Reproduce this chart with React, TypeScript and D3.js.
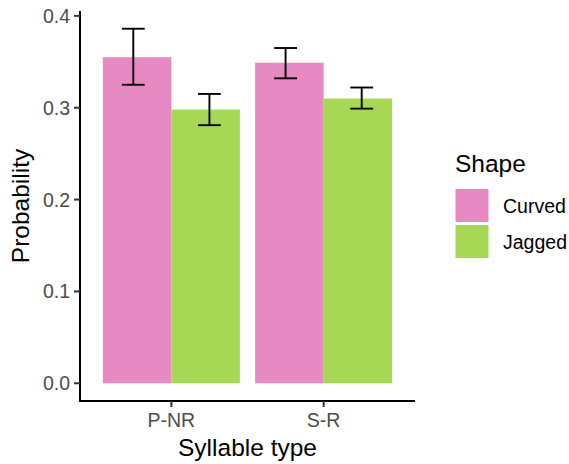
import React from 'react';
import { scaleBand, scaleLinear, max } from 'd3';

const syllableTypes = ['P-NR', 'S-R'];
const shapes = ['Curved', 'Jagged'];
const shapeColors = ['#E78AC3', '#A6D854'];

const curvedMean = [0.355, 0.349];
const curvedLower = [0.325, 0.332];
const curvedUpper = [0.386, 0.365];

const jaggedMean = [0.298, 0.310];
const jaggedLower = [0.281, 0.299];
const jaggedUpper = [0.315, 0.322];

const yTicks = [0, 0.1, 0.2, 0.3, 0.4];

const width = 569;
const height = 464;
const margin = { top: 11, right: 154, bottom: 63, left: 80 };

const App = () => {
  const series = [
    { shape: shapes[0], mean: curvedMean, lower: curvedLower, upper: curvedUpper },
    { shape: shapes[1], mean: jaggedMean, lower: jaggedLower, upper: jaggedUpper },
  ];

  const x = scaleBand()
    .domain(syllableTypes)
    .range([margin.left, width - margin.right])
    .paddingInner(0.1)
    .paddingOuter(0.15);

  const xSub = scaleBand().domain(shapes).range([0, x.bandwidth()]);

  const hi = max([...curvedUpper, ...jaggedUpper]);
  const pad = hi * 0.05;
  const y = scaleLinear()
    .domain([-pad, hi + pad])
    .range([height - margin.bottom, margin.top]);

  const step = x.step();
  const capW = step * 0.15;
  const errOffset = [-step * 0.25, step * 0.25];

  const textFont = 'Liberation Sans, Arial, sans-serif';
  const panelLeft = margin.left;
  const panelBottom = height - margin.bottom;

  return (
    <svg width={width} height={height} style={{ position: 'absolute', left: 0, top: 0 }}>
      <rect width={width} height={height} fill="#fff" />

      {/* bars */}
      {series.map((s, si) =>
        syllableTypes.map((cat, ci) => (
          <rect
            key={s.shape + cat}
            x={x(cat) + xSub(s.shape)}
            y={y(s.mean[ci])}
            width={xSub.bandwidth()}
            height={y(0) - y(s.mean[ci])}
            fill={shapeColors[si]}
          />
        ))
      )}

      {/* error bars */}
      {series.map((s, si) =>
        syllableTypes.map((cat, ci) => {
          const cx = x(cat) + x.bandwidth() / 2 + errOffset[si];
          return (
            <g key={'e' + s.shape + cat} stroke="#000" strokeWidth={1.9}>
              <line x1={cx} x2={cx} y1={y(s.upper[ci])} y2={y(s.lower[ci])} />
              <line x1={cx - capW / 2} x2={cx + capW / 2} y1={y(s.upper[ci])} y2={y(s.upper[ci])} />
              <line x1={cx - capW / 2} x2={cx + capW / 2} y1={y(s.lower[ci])} y2={y(s.lower[ci])} />
            </g>
          );
        })
      )}

      {/* axes */}
      <line x1={panelLeft} x2={panelLeft} y1={margin.top} y2={panelBottom + 1} stroke="#000" strokeWidth={2} />
      <line x1={panelLeft - 1} x2={width - margin.right} y1={panelBottom} y2={panelBottom} stroke="#000" strokeWidth={2} />

      {yTicks.map((t) => (
        <g key={'yt' + t}>
          <line x1={panelLeft - 6} x2={panelLeft} y1={y(t)} y2={y(t)} stroke="#333" strokeWidth={2} />
          <text
            x={panelLeft - 10}
            y={y(t)}
            dy="0.36em"
            textAnchor="end"
            fontFamily={textFont}
            fontSize={19.5}
            fill="#4D4D4D"
          >
            {t.toFixed(1)}
          </text>
        </g>
      ))}

      {syllableTypes.map((cat) => {
        const cx = x(cat) + x.bandwidth() / 2;
        return (
          <g key={'xt' + cat}>
            <line x1={cx} x2={cx} y1={panelBottom} y2={panelBottom + 6} stroke="#333" strokeWidth={2} />
            <text x={cx} y={427} textAnchor="middle" fontFamily={textFont} fontSize={19.5} fill="#4D4D4D">
              {cat}
            </text>
          </g>
        );
      })}

      <text
        x={(panelLeft + width - margin.right) / 2}
        y={456}
        textAnchor="middle"
        fontFamily={textFont}
        fontSize={24.5}
        fill="#000"
      >
        Syllable type
      </text>
      <text
        transform={`translate(29, ${(margin.top + panelBottom) / 2}) rotate(-90)`}
        textAnchor="middle"
        fontFamily={textFont}
        fontSize={24.5}
        fill="#000"
      >
        Probability
      </text>

      {/* legend */}
      <text x={455} y={172} fontFamily={textFont} fontSize={24.5} fill="#000">
        Shape
      </text>
      {shapes.map((s, i) => (
        <g key={'lg' + s}>
          <rect x={455.5} y={189 + i * 36} width={33} height={33} fill={shapeColors[i]} />
          <text x={503} y={189 + i * 36 + 16.5} dy="0.36em" fontFamily={textFont} fontSize={19.5} fill="#000">
            {s}
          </text>
        </g>
      ))}
    </svg>
  );
};

export default App;
